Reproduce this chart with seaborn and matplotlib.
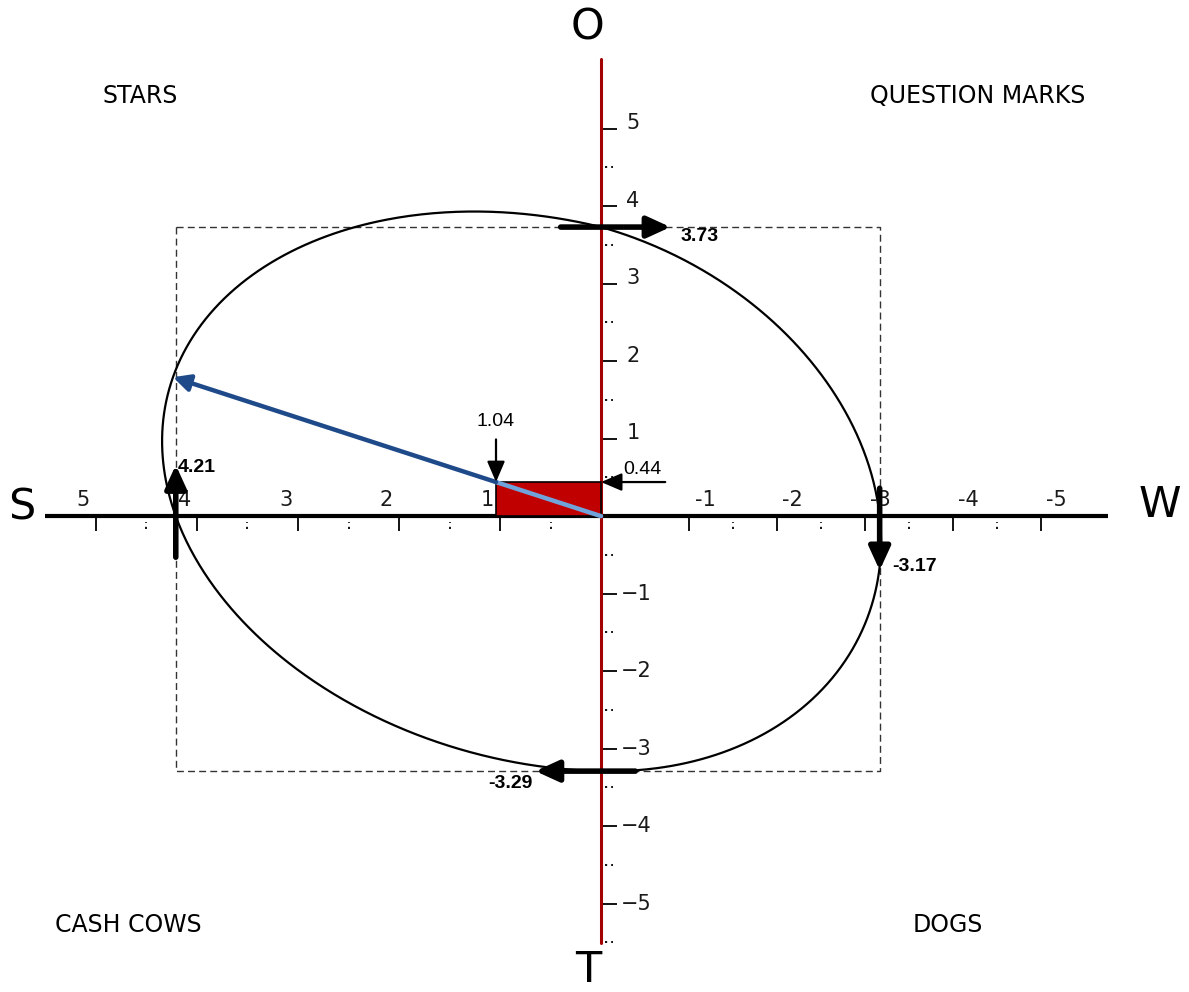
import numpy as np
import pandas as pd
import matplotlib
matplotlib.use('Agg')
import matplotlib.pyplot as plt
import seaborn as sns
from matplotlib.patches import Rectangle

# 그림에서 읽은 값
s_val = 4.21     # S (강점)
o_val = 3.73     # O (기회)
w_val = -3.17    # W (약점)
t_val = -3.29    # T (위협)
res_x = 1.04     # 합성 벡터 x
res_y = 0.44     # 합성 벡터 y
# 타원 위의 점들 (그림에서 추정, 기울기 맞추기용)
curve_x = [1.50, 3.48, 4.37, -2.15]
curve_y = [4.04, 3.17, 1.05, -2.08]

s_ticks = [5, 4, 3, 2, 1]
w_ticks = [-1, -2, -3, -4, -5]
o_ticks = [1, 2, 3, 4, 5]
t_ticks = [-1, -2, -3, -4, -5]
s_minor = [4.5, 3.5, 2.5, 1.5, 0.5]
w_minor = [-1.5, -2.5, -3.5, -4.5]
v_minor = [4.5, 3.5, 2.5, 1.5, 0.5, -0.5, -1.5, -2.5, -3.5, -4.5, -5.5]
quadrants = ['STARS', 'QUESTION MARKS', 'CASH COWS', 'DOGS']
axis_names = ['S', 'W', 'O', 'T']

# 스타일
W_RATIO = 0.87          # 오른쪽(W) 눈금 간격 비율
RED = '#a30000'
NAVY = '#1f4a8a'
LIGHT = '#6fa3da'
num_font = 'Liberation Sans'

sns.set_style('white')

# 이차곡선(타원): A x^2 + B xy + C y^2 + D x + E y = 1  (네 절편을 지남)
A = 1 / (s_val * -w_val)
D = 1 / s_val + 1 / w_val
C = 1 / (o_val * -t_val)
E = 1 / o_val + 1 / t_val
cx = np.array(curve_x)
cy = np.array(curve_y)
resid = 1 - (A * cx**2 + C * cy**2 + D * cx + E * cy)
B = np.sum(resid * cx * cy) / np.sum((cx * cy)**2)   # 최소제곱


def radius(theta):
    c, s = np.cos(theta), np.sin(theta)
    a2 = A * c**2 + B * c * s + C * s**2
    b1 = D * c + E * s
    return (-b1 + np.sqrt(b1**2 + 4 * a2)) / (2 * a2)


th = np.linspace(0, 2 * np.pi, 721)
r = radius(th)
ell = pd.DataFrame({'x': r * np.cos(th), 'y': r * np.sin(th)})

# 합성 벡터 방향으로 타원과 만나는 점
ang = np.arctan2(res_y, res_x)
tip_r = radius(ang)
tip = (tip_r * np.cos(ang), tip_r * np.sin(ang))


def fwd(x):
    x = np.asarray(x, dtype=float)
    return np.where(x < 0, x * W_RATIO, x)


def inv(u):
    u = np.asarray(u, dtype=float)
    return np.where(u < 0, u / W_RATIO, u)


fig = plt.figure(figsize=(11.89, 9.92), dpi=100)
ax = fig.add_axes([0, 0, 1, 1])
ax.set_xscale('function', functions=(fwd, inv))
ax.set_xlim(5.95, -5.82 / W_RATIO)
ax.set_ylim(-6.14, 6.66)
ax.axis('off')

# 점선 박스
box = pd.DataFrame({'x': [s_val, s_val, w_val, w_val, s_val],
                    'y': [o_val, t_val, t_val, o_val, o_val]})
sns.lineplot(data=box, x='x', y='y', sort=False, estimator=None, ax=ax,
             color='#333333', lw=1, dashes=False, linestyle=(0, (5, 3)), zorder=2)

# 타원
sns.lineplot(data=ell, x='x', y='y', sort=False, estimator=None, ax=ax,
             color='black', lw=1.6, zorder=3)

# 가로축 / 세로축
ax.plot([5.50, -5.77], [0, 0], color='black', lw=3, zorder=4, solid_capstyle='butt')
ax.vlines(s_ticks + w_ticks, -0.19, 0, color='black', lw=1.3, zorder=4)
ax.vlines(s_minor + w_minor, -0.17, -0.07, color='black', lw=1.3,
          linestyles=(0, (1.2, 2.2)), zorder=4)
ax.plot([0, 0], [-5.51, 5.90], color=RED, lw=2.2, zorder=5)
ax.hlines(o_ticks + t_ticks, 0, -0.18, color='black', lw=1.3, zorder=4)
ax.hlines(v_minor, -0.04, -0.14, color='black', lw=1.3,
          linestyles=(0, (1.2, 2.2)), zorder=4)

tick_kw = dict(textcoords='offset points', fontsize=15, ha='center', va='center',
               color='#1a1a1a', zorder=6)
for v in s_ticks:
    ax.annotate(str(v), xy=(v, 0), xytext=(-9, 11.5), **tick_kw)
for v in w_ticks:
    ax.annotate(str(v), xy=(v, 0), xytext=(11.5, 11.5), **tick_kw)
for v in o_ticks:
    ax.annotate(str(v), xy=(0, v), xytext=(23, 4), **tick_kw)
for v in t_ticks:
    ax.annotate('\u2212' + str(-v), xy=(0, v), xytext=(25, 0), **tick_kw)

# 빨간 사각형 + 합성 벡터
ax.add_patch(Rectangle((0, 0), res_x, res_y, facecolor='#c00000',
                       edgecolor='black', lw=1.2, zorder=6))
ax.plot([0, res_x], [0, res_y], color=LIGHT, lw=3.2, zorder=7)
ax.annotate('', xy=tip, xytext=(res_x, res_y), zorder=7,
            arrowprops=dict(arrowstyle='-|>,head_length=0.5,head_width=0.25',
                            color=NAVY, lw=3.2, mutation_scale=20,
                            shrinkA=0, shrinkB=0))

# 굵은 화살표 (절편 값)
big = dict(arrowstyle='-|>,head_length=0.7,head_width=0.32', color='black',
           lw=4, mutation_scale=20, shrinkA=0, shrinkB=0)
thin = dict(arrowstyle='-|>,head_length=0.7,head_width=0.3', color='black',
            lw=1.6, mutation_scale=18, shrinkA=0, shrinkB=0)
ax.annotate('', xy=(s_val, 0.66), xytext=(s_val, -0.53), arrowprops=big, zorder=8)
ax.annotate('', xy=(-0.79, o_val), xytext=(0.40, o_val), arrowprops=big, zorder=8)
ax.annotate('', xy=(w_val, -0.70), xytext=(w_val, 0.36), arrowprops=big, zorder=8)
ax.annotate('', xy=(0.65, t_val), xytext=(-0.39, t_val), arrowprops=big, zorder=8)
ax.annotate('', xy=(res_x, res_y), xytext=(res_x, res_y + 0.55), arrowprops=thin, zorder=8)
ax.annotate('', xy=(0, res_y), xytext=(-0.73, res_y), arrowprops=thin, zorder=8)

val_kw = dict(textcoords='offset points', fontsize=14, family=num_font,
              color='black', zorder=9)
ax.annotate(f'{s_val:.2f}', xy=(s_val, 0.66), xytext=(1.5, -2), ha='left',
            va='center', fontweight='bold', **val_kw)
ax.annotate(f'{o_val:.2f}', xy=(-0.79, o_val), xytext=(7, -7), ha='left',
            va='center', fontweight='bold', **val_kw)
ax.annotate(f'{w_val:.2f}', xy=(w_val, -0.70), xytext=(9, 3), ha='left',
            va='center', fontweight='bold', **val_kw)
ax.annotate(f'{t_val:.2f}', xy=(0.65, t_val), xytext=(-2, -3), ha='right',
            va='top', fontweight='bold', **val_kw)
ax.annotate(f'{res_x:.2f}', xy=(res_x, res_y + 0.55), xytext=(0, 7), ha='center',
            va='bottom', **val_kw)
ax.annotate(f'{res_y:.2f}', xy=(0, res_y), xytext=(30, 9), ha='center',
            va='center', **val_kw)

# 축 이름
name_pos = [(0.0185, 0.488), (0.9756, 0.491), (0.4945, 0.972), (0.4945, 0.022)]
for name, (fx, fy) in zip(axis_names, name_pos):
    ax.text(fx, fy, name, transform=ax.transAxes, fontsize=31, ha='center',
            va='center', color='black')

# 사분면 이름
quad_pos = [(0.1178, 0.903), (0.8225, 0.903), (0.1077, 0.0675), (0.7973, 0.0675)]
for q, (fx, fy) in zip(quadrants, quad_pos):
    ax.text(fx, fy, q, transform=ax.transAxes, fontsize=17, ha='center',
            va='center', color='black')

fig.savefig('out.png', dpi=100)
